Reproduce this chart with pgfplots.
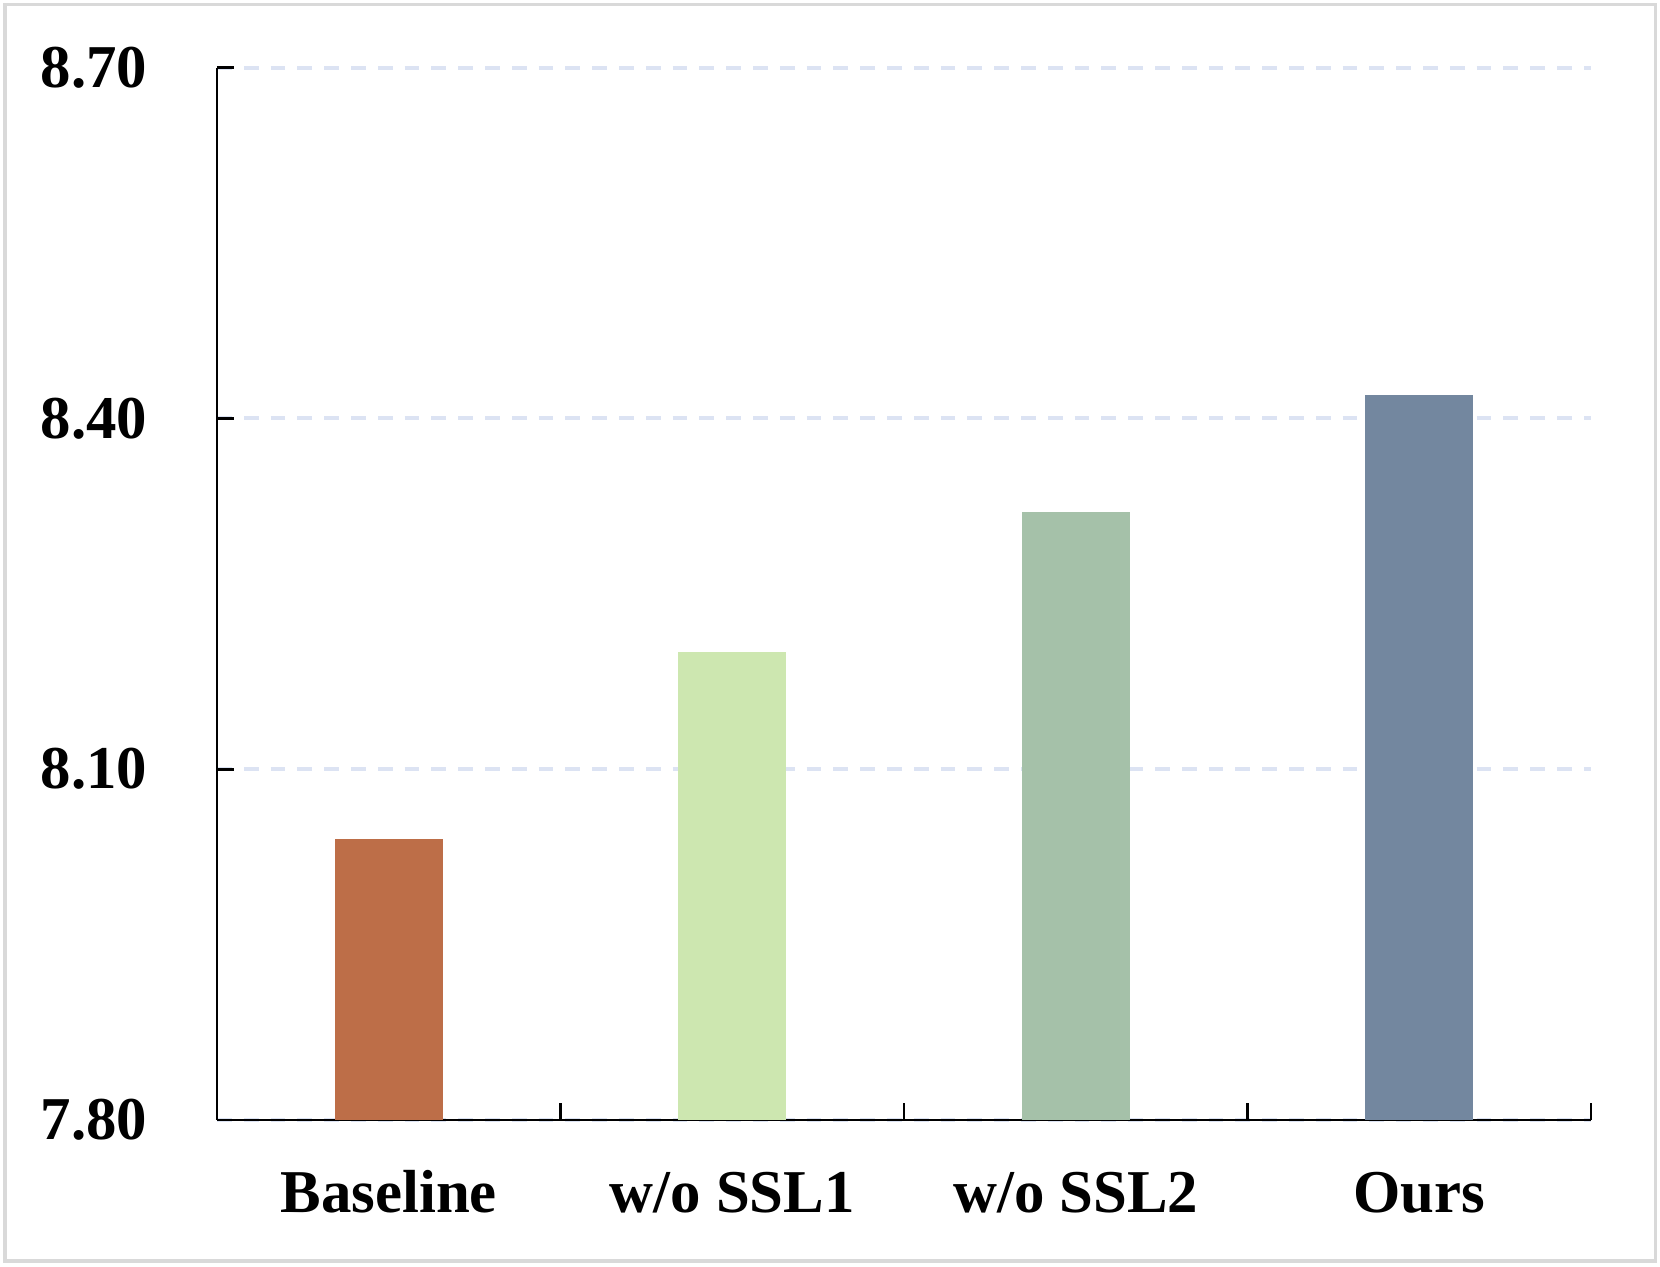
\documentclass[border=0pt]{standalone}
\usepackage{pgfplots}
\pgfplotsset{compat=1.18}
\usepackage{fontspec}
\setmainfont{Liberation Serif}
\definecolor{cBase}{HTML}{BD6E48}
\definecolor{cSSLa}{HTML}{CDE7B0}
\definecolor{cSSLb}{HTML}{A5C1A9}
\definecolor{cOurs}{HTML}{73879F}
\definecolor{cGrid}{HTML}{DCE3F3}
\definecolor{cFrame}{HTML}{D9D9D9}
\begin{document}
\begin{tikzpicture}
\begin{axis}[
  ybar, bar width=27pt, bar shift=0pt,
  scale only axis,
  width=343.5pt, height=263.1pt,
  xmin=-0.5, xmax=3.5,
  ymin=7.8, ymax=8.7,
  axis x line*=bottom,
  axis y line*=left,
  xtick pos=bottom,
  ytick pos=left,
  axis line style={-, line width=0.7pt, black},
  ytick={7.8,8.1,8.4,8.7},
  yticklabels={7.80,8.10,8.40,8.70},
  xtick={0.5,1.5,2.5,3.5},
  xticklabels={},
  extra x ticks={0,1,2,3},
  extra x tick labels={Baseline,w/o SSL1,w/o SSL2,Ours},
  extra x tick style={major tick length=0pt},
  tick align=inside,
  major tick length=4.3pt,
  tick style={line width=0.7pt, black},
  ymajorgrids,
  y grid style={cGrid, line width=1pt, dash pattern=on 3.7pt off 3pt},
  ticklabel style={font=\fontsize{15.2}{18}\selectfont\bfseries},
  yticklabel style={anchor=east, inner sep=0pt, xshift=-17.2pt},
  xticklabel style={anchor=base, inner sep=0pt, yshift=-23.25pt},
]
\addplot[fill=cBase, draw=none] coordinates {(0,8.04)};
\addplot[fill=cSSLa, draw=none] coordinates {(1,8.20)};
\addplot[fill=cSSLb, draw=none] coordinates {(2,8.32)};
\addplot[fill=cOurs, draw=none] coordinates {(3,8.42)};
\end{axis}
\draw[cFrame, line width=0.8pt]
  ([xshift=-53pt, yshift=-35.25pt]current axis.south west) rectangle
  ([xshift=16.1pt, yshift=15.7pt]current axis.north east);
\useasboundingbox
  ([xshift=-54.25pt, yshift=-36.75pt]current axis.south west) rectangle
  ([xshift=17.25pt, yshift=16.9pt]current axis.north east);
\end{tikzpicture}
\end{document}
